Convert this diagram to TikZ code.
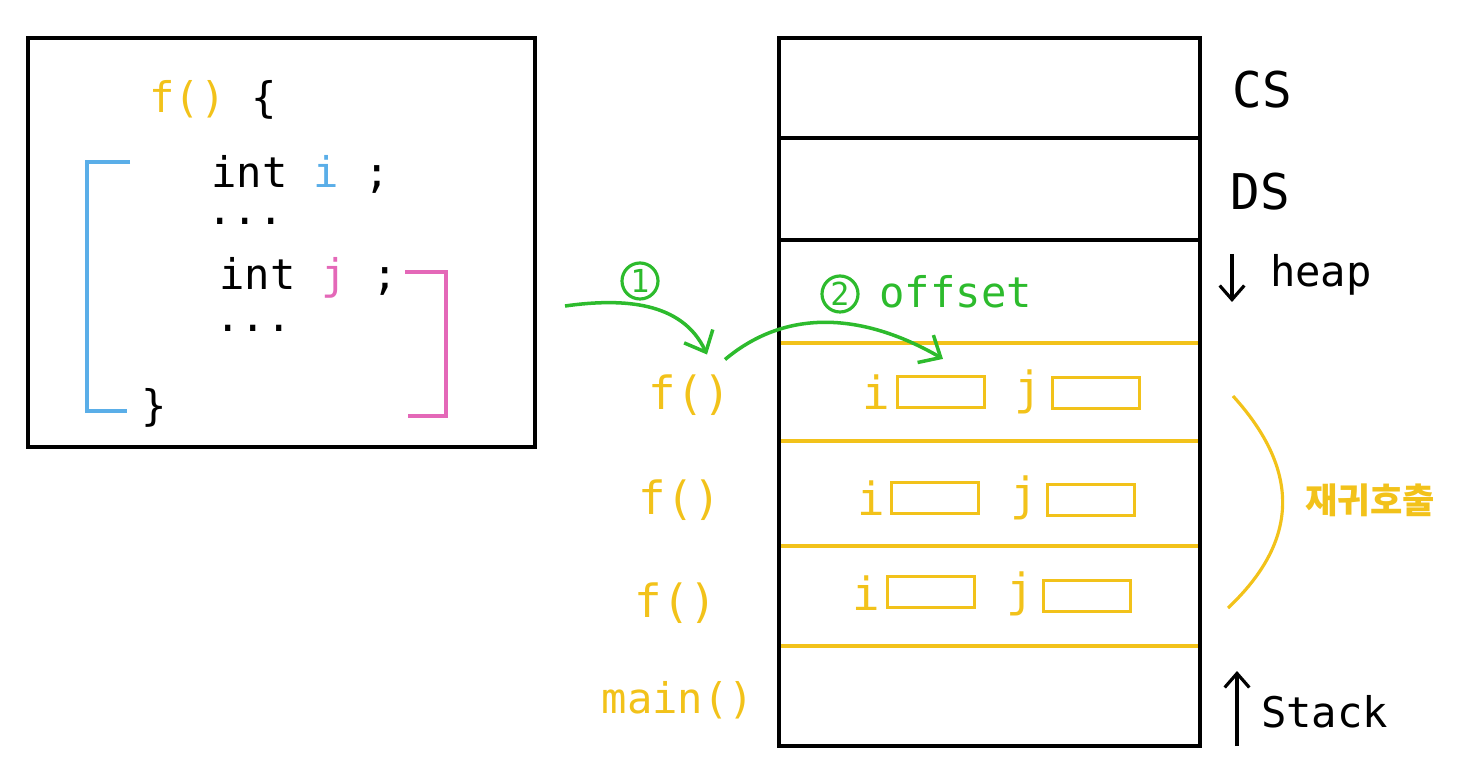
\documentclass[tikz,border=0pt]{standalone}
\usepackage{fontspec}
\setmainfont{DejaVu Sans Mono}
\newfontfamily\korfont{Noto Sans CJK KR}
\usetikzlibrary{arrows.meta}

\definecolor{fyellow}{HTML}{F2C21A}
\definecolor{fblue}{HTML}{5AAEE8}
\definecolor{fpink}{HTML}{E468B8}
\definecolor{fgreen}{HTML}{2DBB2D}

\begin{document}
\begin{tikzpicture}[x=0.01cm, y=0.01cm, line width=0.9pt,
  code/.style={anchor=base west, inner sep=0pt, font=\fontsize{12}{14}\selectfont},
  dots/.style={code, text height=0.08cm, text depth=0pt},
  call/.style={text=fyellow, inner sep=1pt, font=\fontsize{13}{15}\selectfont},
  slot/.style={draw=fyellow, minimum width=0.87cm, minimum height=0.31cm, inner sep=0pt},
  var/.style={text=fyellow, inner sep=0pt, font=\fontsize{13}{15}\selectfont},
  seg/.style={inner sep=1pt, font=\fontsize{14}{16}\selectfont},
  step1/.style={draw=fgreen, text=fgreen, circle, minimum size=0.36cm, inner sep=0pt, font=\fontsize{9}{10}\selectfont},
  garrow/.style={fgreen, line width=1pt, -{Straight Barb[length=5pt,width=9pt]}}]

  \useasboundingbox (0,0) rectangle (1472,-773);

  % source code
  \draw (28,-38) rectangle (535,-447);

  \node[code] (fdef) at (148,-113) {\textcolor{fyellow}{f()} \{};
  \node[code] (inti) at (210,-188) {int \textcolor{fblue}{i} ;};
  \node[dots] (dotsa) at (206,-225) {...};
  \node[code] (intj) at (218,-290) {int \textcolor{fpink}{j} ;};
  \node[dots] (dotsb) at (214,-331) {...};
  \node[code] (fend) at (140,-420) {\}};

  \draw[fblue] (130,-162) -- (87,-162) -- (87,-411) -- (127,-411);
  \draw[fpink] (405,-272) -- (446,-272) -- (446,-416) -- (408,-416);

  % memory
  \draw (779,-38) rectangle (1200,-746);
  \draw (779,-138) -- (1200,-138);
  \draw (779,-240) -- (1200,-240);

  \draw[fyellow] (781,-343) -- (1198,-343);
  \draw[fyellow] (781,-441) -- (1198,-441);
  \draw[fyellow] (781,-546) -- (1198,-546);
  \draw[fyellow] (781,-646) -- (1198,-646);

  \node[seg] (cs) at (1262,-90) {CS};
  \node[seg] (ds) at (1260,-192) {DS};
  \node[seg, anchor=west, font=\fontsize{12}{14}\selectfont] (heap) at (1265,-275) {heap};
  \node[seg, anchor=west, font=\fontsize{12}{14}\selectfont] (stack) at (1256,-712) {Stack};
  \coordinate (heaptop) at (1232,-254);
  \coordinate (stackbot) at (1237,-746);
  \draw[-{Straight Barb[length=4pt,width=7pt]}] (heaptop) -- ++(0,-48);
  \draw[-{Straight Barb[length=4pt,width=7pt]}] (stackbot) -- ++(0,75);

  \node[call] (f1) at (690,-395) {f()};
  \node[call] (f2) at (680,-500) {f()};
  \node[call] (f3) at (676,-603) {f()};
  \node[call, font=\fontsize{12}{14}\selectfont] (fmain) at (678,-700) {main()};

  \node[var] (ia) at (876,-392) {i};
  \node[slot] (sia) at (941,-392) {};
  \node[var] (ja) at (1028,-392) {j};
  \node[slot] (sja) at (1096,-393) {};

  \node[var] (ib) at (871,-498) {i};
  \node[slot] (sib) at (935,-498) {};
  \node[var] (jb) at (1024,-498) {j};
  \node[slot] (sjb) at (1091,-500) {};

  \node[var] (ic) at (866,-593) {i};
  \node[slot] (sic) at (931,-592) {};
  \node[var] (jc) at (1020,-594) {j};
  \node[slot] (sjc) at (1087,-596) {};

  % recursion
  \draw[fyellow] (1233,-396) .. controls (1300,-470) and (1300,-540) .. (1228,-608);
  \node[text=fyellow, font=\korfont\bfseries\fontsize{10}{12}\selectfont] (rec) at (1370,-500) {재귀호출};

  % steps
  \coordinate (src) at (565,-306);
  \node[step1] (n1) at (640,-281) {1};
  \node[step1] (n2) at (840,-294) {2};
  \node[anchor=west, text=fgreen, inner sep=0pt, font=\fontsize{12}{14}\selectfont] (offset) at (878,-292) {offset};

  \draw[garrow] (src) to[out=8, in=115] ([shift={(17,15)}]f1.north);
  \draw[garrow] ([shift={(35,10)}]f1.north) to[out=40, in=150] ([shift={(2,16)}]sia.north);

\end{tikzpicture}
\end{document}
